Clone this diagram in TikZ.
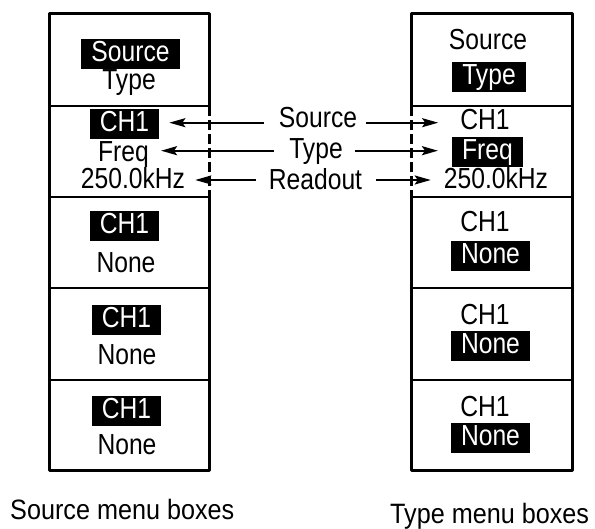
\documentclass[tikz,border=0pt]{standalone}
\usepackage{fontspec}
\setmainfont{Liberation Sans}[FakeStretch=0.85]
\newfontfamily\capfont{Liberation Sans}[FakeStretch=0.9]
\usetikzlibrary{arrows.meta}
\begin{document}
\begin{tikzpicture}[x=1pt,y=-1pt,
 txt/.style={font=\fontsize{29}{29}\selectfont, inner sep=0pt, anchor=base},
 hl/.style={txt, fill=black, text=white, inner xsep=10pt, inner ysep=0pt, text height=23pt, text depth=7pt},
 arr/.style={line width=2pt, -{Stealth[length=16pt,width=9pt,inset=3pt]}},
 outer/.style={line width=3pt, line join=round},
 div/.style={line width=2pt},
 dsh/.style={line width=3pt, dash pattern=on 10pt off 4pt},
 captxt/.style={font=\capfont\fontsize{28}{28}\selectfont, inner sep=0pt, anchor=base west}]
\useasboundingbox (0,0) rectangle (595,529);
% left box
\draw[outer] (209,106) -- (209,14) -- (49,14) -- (49,471) -- (209,471) -- (209,197);
\draw[dsh] (209,106) -- (209,197);
\foreach \y in {106,197,288,380} \draw[div] (49,\y) -- (209,\y);
% right box
\draw[outer] (411,106) -- (411,14) -- (572,14) -- (572,471) -- (411,471) -- (411,197);
\draw[dsh] (411,106) -- (411,197);
\foreach \y in {106,197,288,380} \draw[div] (411,\y) -- (572,\y);
% left texts
\node[hl] (lsrc) at (130.5,62) {Source};
\node[txt] (ltype) at (129,90) {Type};
\node[hl] (lch1a) at (124.5,132) {CH1};
\node[txt] (lfreq) at (123.5,161.5) {Freq};
\node[txt] (l250) at (133,189) {250.0kHz};
\node[hl] (lch1b) at (124.5,234) {CH1};
\node[txt] (lnone1) at (126,273) {None};
\node[hl] (lch1c) at (126.5,328) {CH1};
\node[txt] (lnone2) at (127,365) {None};
\node[hl] (lch1d) at (126.5,419) {CH1};
\node[txt] (lnone3) at (127,455) {None};
% right texts
\node[txt] (rsrc) at (488,50) {Source};
\node[hl] (rtype) at (489,85) {Type};
\node[txt] (rch1a) at (485,130) {CH1};
\node[hl] (rfreq) at (487.5,160) {Freq};
\node[txt] (r250) at (496,189) {250.0kHz};
\node[txt] (rch1b) at (485,232) {CH1};
\node[hl] (rnone1) at (490.5,264) {None};
\node[txt] (rch1c) at (485,325) {CH1};
\node[hl] (rnone2) at (490.5,354) {None};
\node[txt] (rch1d) at (485,417) {CH1};
\node[hl] (rnone3) at (490.5,446) {None};
% middle labels
\node[txt] (msrc) at (318,128) {Source};
\node[txt] (mtype) at (316,159) {Type};
\node[txt] (mread) at (315.5,190) {Readout};
% arrows
\coordinate (aSL) at ([xshift=-15pt,yshift=5.3pt]msrc.base west);
\coordinate (aSR) at ([xshift=9pt,yshift=5.3pt]msrc.base east);
\coordinate (aTL) at ([xshift=-15pt,yshift=8.3pt]mtype.base west);
\coordinate (aTR) at ([xshift=12pt,yshift=8.3pt]mtype.base east);
\coordinate (aRL) at ([xshift=-13pt,yshift=10pt]mread.base west);
\coordinate (aRR) at ([xshift=14pt,yshift=10pt]mread.base east);
\draw[arr, shorten >=10pt] (aSL) -- (aSL -| lch1a.east);
\draw[arr, shorten >=22pt] (aSR) -- (aSR -| rch1a.west);
\draw[arr, shorten >=12pt] (aTL) -- (aTL -| lfreq.east);
\draw[arr, shorten >=14pt] (aTR) -- (aTR -| rfreq.west);
\draw[arr, shorten >=10pt] (aRL) -- (aRL -| l250.east);
\draw[arr, shorten >=13pt] (aRR) -- (aRR -| r250.west);
% captions
\node[captxt] (capL) at (10,519) {Source menu boxes};
\node[captxt] (capR) at (390,523) {Type menu boxes};
\end{tikzpicture}
\end{document}
